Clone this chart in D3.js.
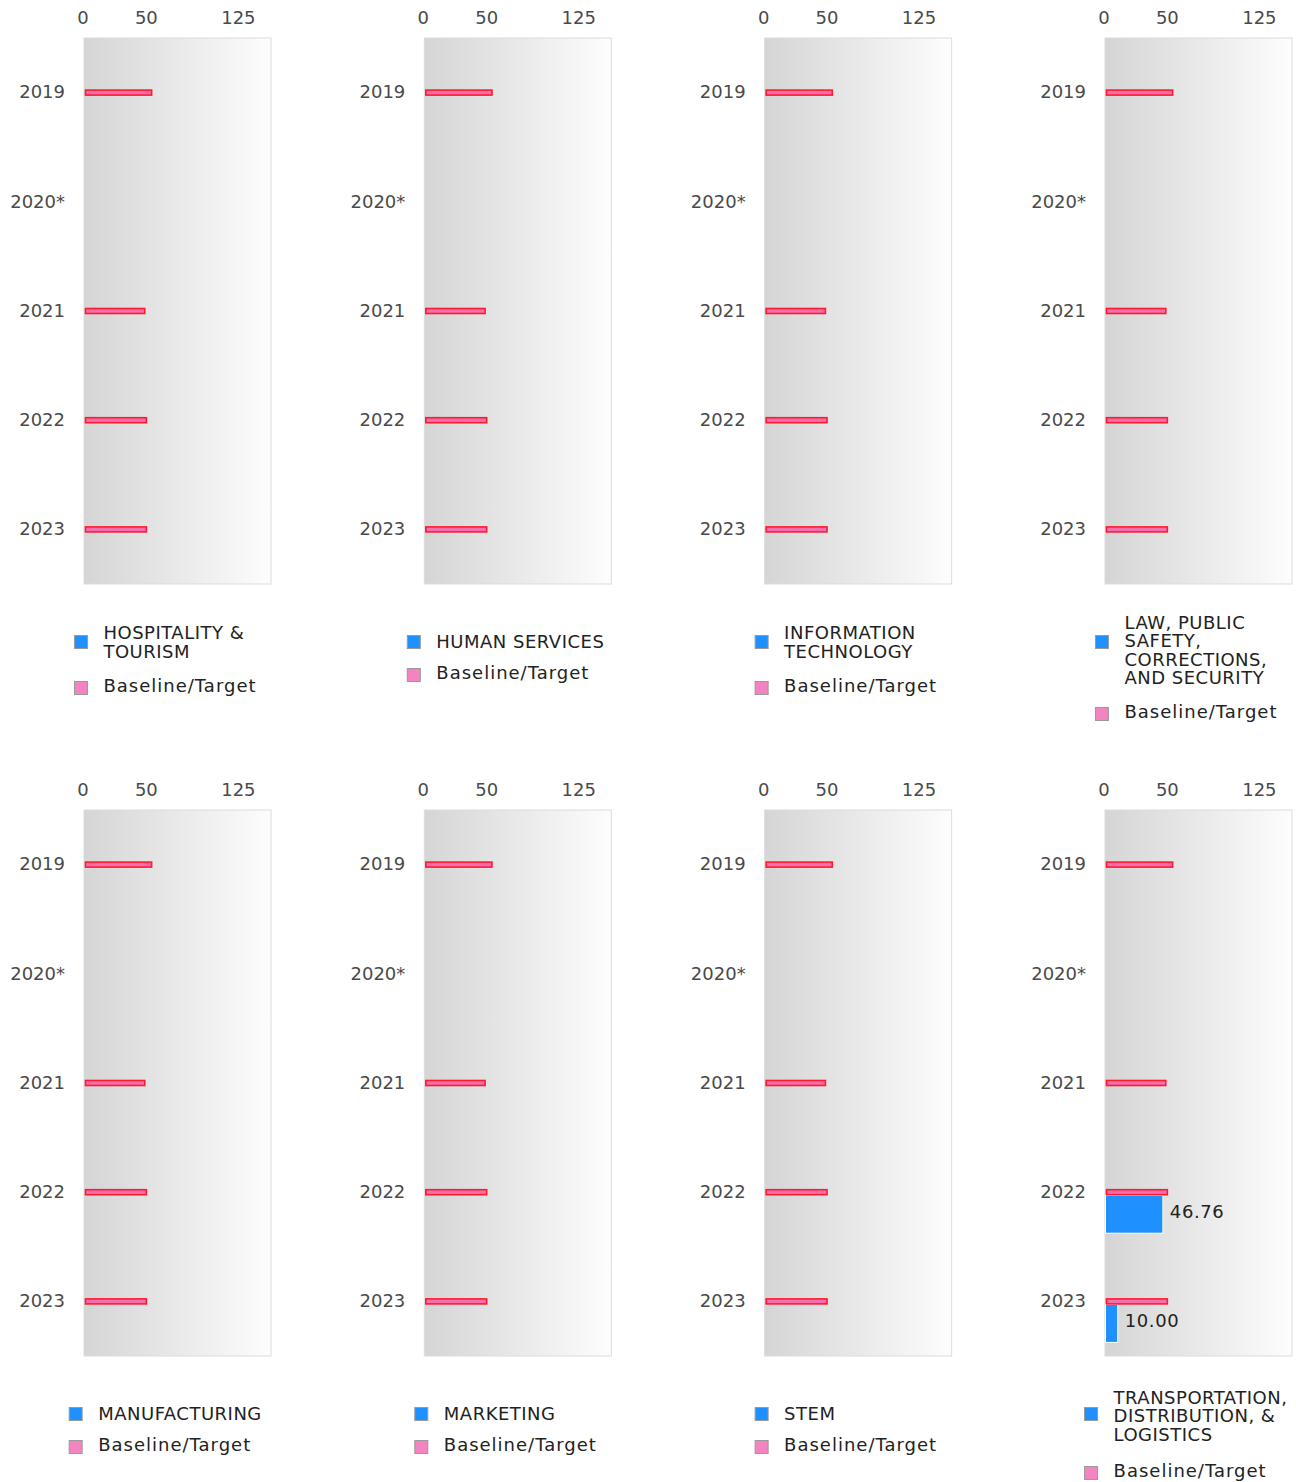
<!DOCTYPE html>
<html>
<head>
<meta charset="utf-8">
<script src="https://cdn.jsdelivr.net/npm/d3@7"></script>
<style>
  body { margin: 0; background: #fff; }
  svg { display: block; font-family: "DejaVu Sans", Verdana, sans-serif; }
</style>
</head>
<body>
<svg id="chart"></svg>
<script>
const WIDTH = 1296, HEIGHT = 1482;

// data
const years = ["2019", "2020*", "2021", "2022", "2023"];
const clusters = [
    "HOSPITALITY & TOURISM", "HUMAN SERVICES", "INFORMATION TECHNOLOGY",
    "LAW, PUBLIC SAFETY, CORRECTIONS, AND SECURITY",
    "MANUFACTURING", "MARKETING", "STEM",
    "TRANSPORTATION, DISTRIBUTION, & LOGISTICS"
];
const baselineTarget = [53.9, null, 48.3, 49.6, 49.6];
const clusterValues = [
    [null, null, null, null, null],
    [null, null, null, null, null],
    [null, null, null, null, null],
    [null, null, null, null, null],
    [null, null, null, null, null],
    [null, null, null, null, null],
    [null, null, null, null, null],
    [null, null, null, 46.76, 10.00]
];
const xTicks = [0, 50, 125];
const xMax = 152;

const PLOT_W = 187, PLOT_H = 546;
const COL_STEP = 340.33, ROW_STEP = 772;
const LEFT0 = 84, TOP0 = 38;
const FONT = 18;

const svg = d3.select("#chart").attr("width", WIDTH).attr("height", HEIGHT);

const defs = svg.append("defs");
const grad = defs.append("linearGradient").attr("id", "bg")
    .attr("x1", "0%").attr("x2", "100%").attr("y1", "0%").attr("y2", "0%");
grad.append("stop").attr("offset", "0%").attr("stop-color", "#d5d5d5");
grad.append("stop").attr("offset", "100%").attr("stop-color", "#fdfdfd");

function wrapWords(textSel, words, maxWidth) {
    // greedy wrap using measured widths
    const lines = [];
    let cur = [];
    const probe = textSel.append("tspan");
    words.forEach(w => {
        const test = cur.concat([w]).join(" ");
        probe.text(test);
        if (cur.length && probe.node().getComputedTextLength() > maxWidth) {
            lines.push(cur.join(" "));
            cur = [w];
        } else {
            cur.push(w);
        }
    });
    if (cur.length) lines.push(cur.join(" "));
    probe.remove();
    return lines;
}

function drawPanel(i) {
    const col = i % 4, row = Math.floor(i / 4);
    const left = LEFT0 + col * COL_STEP;
    const top = TOP0 + row * ROW_STEP;

    const g = svg.append("g").attr("transform", `translate(${left}, ${top})`);

    const x = d3.scaleLinear().domain([0, xMax]).range([0.5, PLOT_W]);
    const y = d3.scaleBand().domain(years).range([0, PLOT_H]).padding(0);

    g.append("rect")
        .attr("x", 0).attr("y", 0)
        .attr("width", PLOT_W).attr("height", PLOT_H)
        .style("fill", "url(#bg)")
        .style("stroke", "#dcdcdc")
        .style("stroke-width", "1px");

    const xAxis = d3.axisTop(x).tickValues(xTicks).tickSize(0).tickPadding(14);
    const ax = g.append("g").call(xAxis);
    ax.select(".domain").remove();
    ax.selectAll("text")
        .attr("dx", d => d === 0 ? -2 : 0)
        .style("font-size", FONT + "px")
        .style("font-family", "DejaVu Sans")
        .style("fill", "#4a4a4a");

    const yAxis = d3.axisLeft(y).tickSize(0).tickPadding(19);
    const ay = g.append("g").call(yAxis);
    ay.select(".domain").remove();
    ay.selectAll("text")
        .style("font-size", FONT + "px")
        .style("font-family", "DejaVu Sans")
        .style("fill", "#4a4a4a");

    const mid = d => y(d) + y.bandwidth() / 2;

    const vals = clusterValues[i];
    const bars = years.map((yr, k) => ({ yr, v: vals[k], b: baselineTarget[k] }));

    g.selectAll("rect.value")
        .data(bars.filter(d => d.v != null))
        .enter().append("rect")
        .attr("class", "value")
        .attr("x", x(0))
        .attr("y", d => mid(d.yr) + 3)
        .attr("width", d => x(d.v) - x(0))
        .attr("height", 38)
        .style("fill", "#1e90ff")
        .style("stroke", "#ffffff")
        .style("stroke-width", "1px");

    g.selectAll("text.vlabel")
        .data(bars.filter(d => d.v != null))
        .enter().append("text")
        .attr("class", "vlabel")
        .attr("x", d => x(d.v) + 7)
        .attr("y", d => mid(d.yr) + 19)
        .attr("dy", "0.35em")
        .style("font-size", FONT + "px")
        .style("fill", "#222")
        .style("letter-spacing", "0.6px")
        .text(d => d3.format(".2f")(d.v));

    g.selectAll("rect.baseline")
        .data(bars.filter(d => d.b != null))
        .enter().append("rect")
        .attr("class", "baseline")
        .attr("x", x(0) + 1)
        .attr("y", d => mid(d.yr) - 2.5)
        .attr("width", d => x(d.b) - x(0))
        .attr("height", 5)
        .style("fill", "#f56fae")
        .style("stroke", "#ff1a2e")
        .style("stroke-width", "1.6px");

    // legend
    const lg = svg.append("g");
    const t1 = lg.append("text")
        .style("font-size", FONT + "px")
        .style("letter-spacing", "0.5px")
        .style("fill", "#222");
    const lines = wrapWords(t1, clusters[i].split(" "), 185);
    const n = lines.length;
    const lineH = 18.5;
    const c1 = top + PLOT_H + 58 + (n > 2 ? (n - 2) * 2 : 0);
    const firstY = c1 - (n - 1) * lineH / 2 + (n > 3 ? 4 : 0);
    lines.forEach((ln, k) => {
        t1.append("tspan").attr("x", 0).attr("y", firstY + k * lineH)
            .attr("dy", "0.35em").text(ln);
    });
    const t2 = lg.append("text")
        .attr("x", 0)
        .attr("y", top + PLOT_H + 58 + 31 + (n - 1) * 13)
        .attr("dy", "0.35em")
        .style("font-size", FONT + "px")
        .style("letter-spacing", "1px")
        .style("fill", "#222")
        .text("Baseline/Target");

    const wMax = Math.max(t1.node().getBBox().width, t2.node().getComputedTextLength());
    const blockW = 29 + wMax;
    const sqX = left + PLOT_W / 2 - 12 - blockW / 2;
    t1.attr("transform", `translate(${sqX + 29}, 0)`);
    t1.selectAll("tspan").attr("x", 0);
    t2.attr("x", sqX + 29);

    lg.append("rect")
        .attr("x", sqX).attr("y", top + PLOT_H + 58 - 6.5)
        .attr("width", 13).attr("height", 13)
        .style("fill", "#1e90ff").style("stroke", "#9a9a9a").style("stroke-width", "1px");
    lg.append("rect")
        .attr("x", sqX).attr("y", +t2.attr("y") - 6.5 + 2)
        .attr("width", 13).attr("height", 13)
        .style("fill", "#f384c0").style("stroke", "#9a9a9a").style("stroke-width", "1px");
}

clusters.forEach((c, i) => drawPanel(i));
</script>
</body>
</html>
